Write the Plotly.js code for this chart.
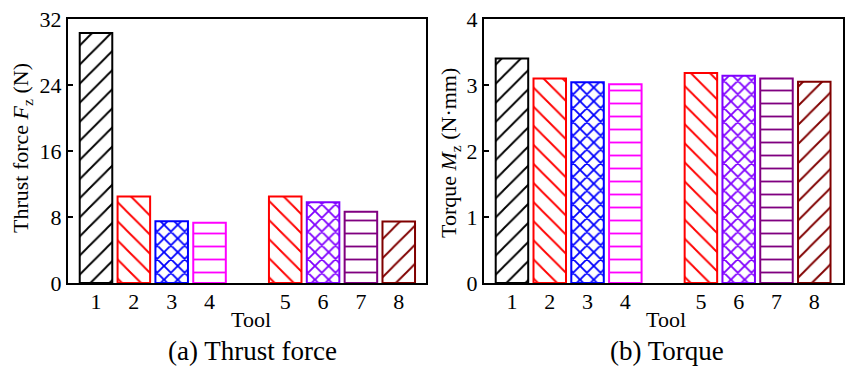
<!DOCTYPE html>
<html>
<head>
<meta charset="utf-8">
<script src="https://cdn.plot.ly/plotly-3.0.1.min.js"></script>
<style>
  html, body { margin: 0; padding: 0; background: #fff; }
</style>
</head>
<body>
<div id="chart"></div>
<script>
// ---- data ----
const toolLabels = ['1', '2', '3', '4', '5', '6', '7', '8'];
const toolPositions = [1, 2, 3, 4, 6, 7, 8, 9];
const thrustForce = [30.3, 10.5, 7.5, 7.3, 10.5, 9.8, 8.65, 7.45];
const torque = [3.40, 3.10, 3.04, 3.01, 3.18, 3.14, 3.10, 3.05];
const barColors = ['#000000', '#ff0000', '#0000ff', '#ff00ff', '#ff0000', '#8000ff', '#800080', '#800000'];
const barPatterns = ['/', '\\', 'x', '-', '\\', 'x', '-', '/'];
const thrustTicks = [0, 8, 16, 24, 32];
const torqueTicks = [0, 1, 2, 3, 4];

const FAM = 'Liberation Serif';
const patSizes = barPatterns.map(p => (p === '/' || p === '\\') ? 13.5 : (p === 'x' ? 9.7 : 13));
const patSolid = barPatterns.map(p => (p === '/' || p === '\\') ? 0.14 : (p === 'x' ? 0.34 : 0.14));

function barTrace(values, xa, ya) {
  return {
    type: 'bar',
    x: toolPositions,
    y: values,
    xaxis: xa,
    yaxis: ya,
    width: 0.86,
    marker: {
      color: 'white',
      line: { color: barColors, width: 2 },
      pattern: {
        shape: barPatterns,
        fgcolor: barColors,
        fgopacity: 1,
        size: patSizes,
        solidity: patSolid,
        fillmode: 'overlay'
      }
    },
    hoverinfo: 'skip',
    showlegend: false
  };
}

const data = [
  barTrace(thrustForce, 'x', 'y'),
  barTrace(torque, 'x2', 'y2')
];

const yDom = [1 - 283 / 368, 1 - 19 / 368];
const commonX = {
  tickmode: 'array',
  tickvals: toolPositions,
  ticktext: toolLabels,
  ticks: '',
  ticklabelstandoff: -2,
  showline: true,
  mirror: true,
  linecolor: 'black',
  linewidth: 2,
  showgrid: false,
  zeroline: false,
  fixedrange: true,
  tickfont: { family: FAM, size: 22, color: 'black' }
};
const commonY = {
  tickmode: 'array',
  ticks: 'inside',
  ticklen: 5,
  tickwidth: 1.5,
  tickcolor: 'black',
  showline: true,
  mirror: true,
  linecolor: 'black',
  linewidth: 2,
  showgrid: false,
  zeroline: false,
  fixedrange: true,
  domain: yDom,
  tickfont: { family: FAM, size: 22, color: 'black' }
};

function ann(text, px, py, size, angle) {
  return { text: text, x: px / 845, y: 1 - py / 368, xref: 'paper', yref: 'paper',
    showarrow: false, xanchor: 'center', yanchor: 'middle', textangle: angle || 0,
    font: { family: FAM, size: size, color: 'black' } };
}

const layout = {
  width: 845,
  height: 368,
  margin: { l: 0, r: 0, t: 0, b: 0 },
  paper_bgcolor: 'white',
  plot_bgcolor: 'white',
  font: { family: FAM, color: 'black' },
  xaxis: Object.assign({}, commonX, { domain: [68 / 845, 426 / 845], range: [0.26, 9.72], anchor: 'y' }),
  xaxis2: Object.assign({}, commonX, { domain: [484 / 845, 843 / 845], range: [0.26, 9.76], anchor: 'y2' }),
  yaxis: Object.assign({}, commonY, { range: [0, 32], tickvals: thrustTicks, anchor: 'x' }),
  yaxis2: Object.assign({}, commonY, { range: [0, 4], tickvals: torqueTicks, anchor: 'x2' }),
  annotations: [
    ann('Thrust force <i>F</i><sub>z</sub> (N)', 22, 148, 22, -90),
    ann('Torque <i>M</i><sub>z</sub> (N·mm)', 450, 153, 22, -90),
    ann('Tool', 251, 319, 22),
    ann('Tool', 666, 319, 22),
    ann('(a) Thrust force', 252, 351, 27),
    ann('(b) Torque', 667, 351, 27)
  ]
};

Plotly.newPlot('chart', data, layout, { staticPlot: true, displayModeBar: false });
</script>
</body>
</html>
